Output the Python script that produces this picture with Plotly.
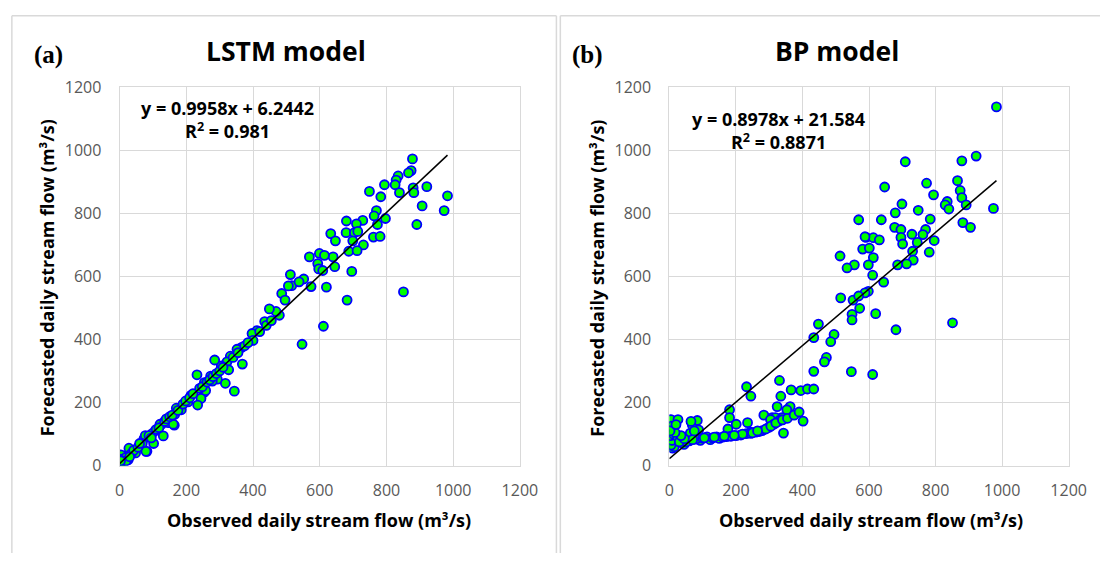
import numpy as np
import plotly.graph_objects as go

W, H = 1118, 564

# ---------------- data ----------------
lstm_obs = [878, 874, 866, 835, 829, 826, 839, 794, 749, 783, 880, 882, 921, 983, 973, 907, 891, 851, 682, 611,
            547, 770, 763, 797, 729, 680, 710, 773, 633, 647, 679, 704, 714, 699, 731, 761, 781, 687, 712, 569,
            599, 640, 614, 594, 597, 609, 645, 696, 620, 512, 516, 552, 574, 486, 496, 479, 538, 506, 469, 449,
            435, 412, 397, 400, 366, 352, 368, 332, 322, 327, 305, 285, 317, 344, 293, 278, 232, 254, 254, 244,
            234, 214, 205, 185, 165, 164, 146, 126, 131, 107, 87, 73, 82, 63, 48, 28, 14, 4, 26, 258,
            273, 170, 161, 121, 97, 77, 68, 79, 102, 9, 4, 10, 18, 35, 42, 55, 60, 88, 95, 110,
            118, 135, 140, 150, 158, 175, 190, 198, 210, 220, 240, 248, 262, 270, 280, 290, 300, 310, 340, 355,
            375, 385, 420, 440, 455, 2, 5, 12, 20, 30, 0, 3]
lstm_fc = [973, 936, 929, 919, 906, 891, 866, 891, 870, 853, 881, 866, 885, 856, 809, 824, 765, 551, 525, 442,
           385, 809, 792, 784, 778, 776, 767, 765, 736, 713, 739, 739, 743, 713, 700, 725, 727, 680, 682, 662,
           673, 662, 667, 641, 624, 619, 631, 616, 566, 606, 571, 592, 568, 546, 525, 477, 583, 570, 489, 497,
           457, 428, 419, 397, 375, 369, 322, 347, 329, 304, 316, 335, 261, 236, 274, 268, 288, 263, 233, 213,
           192, 223, 202, 177, 162, 128, 136, 131, 94, 111, 91, 85, 45, 65, 40, 55, 30, 9, 19, 238,
           284, 182, 131, 131, 101, 95, 70, 45, 70, 14, 34, 20, 25, 38, 48, 58, 70, 95, 88, 115,
           120, 140, 148, 155, 160, 175, 195, 205, 215, 228, 245, 250, 265, 272, 282, 292, 300, 312, 343, 358,
           380, 390, 425, 445, 460, 5, 12, 8, 15, 28, 20, 15]

bp_obs = [983, 922, 879, 709, 866, 874, 879, 892, 974, 773, 794, 835, 829, 840, 647, 699, 679, 748, 784, 637,
          569, 882, 905, 677, 696, 770, 729, 762, 591, 613, 631, 696, 701, 745, 796, 731, 781, 581, 601, 613,
          513, 556, 534, 598, 733, 713, 686, 611, 644, 598, 588, 515, 552, 569, 572, 549, 549, 620, 681, 851,
          547, 611, 588, 448, 434, 495, 485, 472, 466, 434, 331, 232, 245, 366, 395, 415, 434, 335, 324, 363,
          353, 284, 309, 338, 402, 181, 181, 235, 201, 343, 245, 176, 5, 26, 10, 69, 84, 88, 63, 74,
          39, 44, 10, 0, 0, 319, 334, 304, 113, 142, 172, 201, 231, 260, 279, 299, 314, 329, 93, 123,
          150, 60, 80, 100, 130, 160, 185, 215, 245, 270, 290, 305, 320, 340, 355, 375, 390, 50, 20, 15,
          5, 8, 3, 12, 25, 30, 220, 250, 265, 195, 165, 135, 105, 70, 45, 35, 17, 7, 2, 20,
          75, 65]
bp_fc = [1138, 982, 967, 964, 904, 873, 850, 827, 816, 896, 859, 838, 827, 814, 884, 830, 802, 810, 782, 780,
         780, 771, 756, 756, 749, 749, 734, 733, 724, 723, 716, 724, 703, 708, 714, 680, 677, 687, 690, 660,
         665, 637, 627, 637, 652, 640, 637, 604, 582, 553, 548, 532, 525, 538, 499, 480, 462, 482, 431, 453,
         298, 289, 726, 449, 406, 416, 393, 343, 329, 299, 270, 250, 220, 240, 238, 243, 243, 220, 187, 187,
         177, 160, 152, 152, 141, 177, 152, 136, 131, 103, 106, 116, 146, 146, 116, 129, 143, 113, 103, 85,
         82, 67, 55, 70, 91, 152, 146, 146, 91, 91, 92, 95, 101, 106, 111, 121, 131, 141, 80, 82,
         86, 78, 84, 87, 88, 90, 93, 97, 102, 108, 116, 125, 135, 145, 150, 160, 170, 75, 72, 60,
         65, 80, 95, 100, 90, 75, 100, 104, 110, 96, 93, 90, 88, 82, 85, 95, 105, 125, 110, 130,
         110, 140]

lstm_eq = ("y = 0.9958x + 6.2442", "R<sup>2</sup> = 0.981")
bp_eq = ("y = 0.8978x + 21.584", "R<sup>2</sup> = 0.8871")
lstm_coef = (0.9958, 6.2442)
bp_coef = (0.8978, 21.584)
ticks = [0, 200, 400, 600, 800, 1000, 1200]


def px(x):
    return x / W


def py(y):
    return 1 - y / H


fig = go.Figure()

marker = dict(size=9, color="#00ff00", line=dict(color="#0000ff", width=1.8))

for obs, fc, coef, xa, ya in [(lstm_obs, lstm_fc, lstm_coef, "x", "y"),
                              (bp_obs, bp_fc, bp_coef, "x2", "y2")]:
    fig.add_trace(go.Scatter(x=obs, y=fc, mode="markers", marker=marker,
                             xaxis=xa, yaxis=ya, showlegend=False))
    xs = np.array([min(obs), max(obs)], dtype=float)
    fig.add_trace(go.Scatter(x=xs, y=coef[0] * xs + coef[1], mode="lines",
                             line=dict(color="black", width=1.5),
                             xaxis=xa, yaxis=ya, showlegend=False))

tickfont = dict(family="Open Sans", size=16, color="#595959")
axis_common = dict(range=[0, 1200], tickvals=ticks, showgrid=True, gridcolor="#d9d9d9",
                   gridwidth=1, zeroline=False, showline=True, linecolor="#d9d9d9",
                   linewidth=1, mirror=True, tickfont=tickfont, ticks="")

ydom = [py(473), py(79.5)]
fig.update_layout(
    width=W, height=H,
    margin=dict(l=0, r=0, t=0, b=0),
    paper_bgcolor="white", plot_bgcolor="white",
    xaxis=dict(domain=[px(117), px(525.7)], anchor="y", ticklabelstandoff=10, **axis_common),
    yaxis=dict(domain=ydom, anchor="x", ticklabelstandoff=14, **axis_common),
    xaxis2=dict(domain=[px(678.3), px(1086)], anchor="y2", ticklabelstandoff=10, **axis_common),
    yaxis2=dict(domain=ydom, anchor="x2", ticklabelstandoff=14, **axis_common),
)

# panel frames
frame = dict(color="#d9d9d9", width=1.5)
shapes = [
    dict(type="line", xref="paper", yref="paper", x0=px(7), x1=px(563), y0=py(5), y1=py(5), line=frame),
    dict(type="line", xref="paper", yref="paper", x0=px(7), x1=px(7), y0=py(5), y1=0, line=frame),
    dict(type="line", xref="paper", yref="paper", x0=px(563), x1=px(563), y0=py(5), y1=0, line=frame),
    dict(type="line", xref="paper", yref="paper", x0=px(567), x1=1, y0=py(5), y1=py(5), line=frame),
    dict(type="line", xref="paper", yref="paper", x0=px(567), x1=px(567), y0=py(5), y1=0, line=frame),
]
fig.update_layout(shapes=shapes)

bold = "Open Sans"
ann = []
for title, tx, lab, lx, eq, ex, ey, xt_x, yt_x in [
        ("LSTM model", 287, "(a)", 44, lstm_eq, 227, 112.5, 321, 43),
        ("BP model", 849, "(b)", 595, bp_eq, 790, 124, 884, 605)]:
    ann.append(dict(text="<b>" + title + "</b>", x=px(tx), y=py(42), xref="paper", yref="paper",
                    showarrow=False, xanchor="center", yanchor="middle",
                    font=dict(family=bold, size=26.5, color="black")))
    ann.append(dict(text="<b>" + lab + "</b>", x=px(lx), y=py(46), xref="paper", yref="paper",
                    showarrow=False, xanchor="center", yanchor="middle",
                    font=dict(family="Liberation Serif", size=25, color="black")))
    ann.append(dict(text="<b>" + eq[0] + "<br>" + eq[1] + "</b>", x=px(ex), y=py(ey),
                    xref="paper", yref="paper", align="center",
                    showarrow=False, xanchor="center", yanchor="middle",
                    font=dict(family=bold, size=18, color="black")))
    ann.append(dict(text="<b>Observed daily stream flow (m³/s)</b>", x=px(xt_x), y=py(530),
                    xref="paper", yref="paper", showarrow=False, xanchor="center", yanchor="middle",
                    font=dict(family=bold, size=18, color="black")))
    ann.append(dict(text="<b>Forecasted daily stream flow (m³/s)</b>", x=px(yt_x), y=py(278),
                    xref="paper", yref="paper", showarrow=False, xanchor="center", yanchor="middle",
                    textangle=-90, font=dict(family=bold, size=18, color="black")))
fig.update_layout(annotations=ann)

fig.write_html("out.html", config={"displayModeBar": False},
               post_script="document.body.style.margin='0';document.body.style.overflow='hidden';")
